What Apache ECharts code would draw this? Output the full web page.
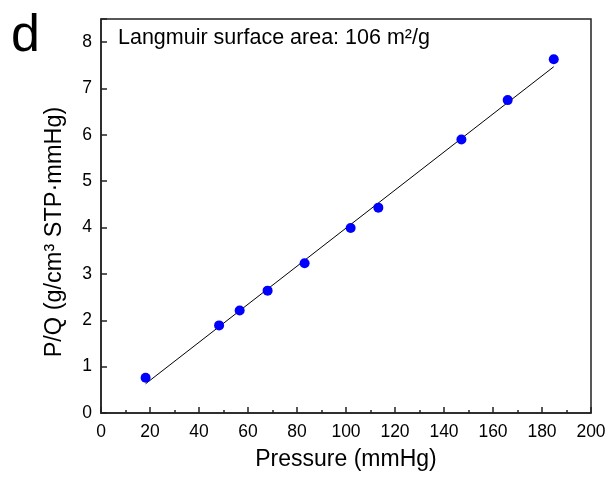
<!DOCTYPE html>
<html>
<head>
<meta charset="utf-8">
<script src="https://cdn.jsdelivr.net/npm/echarts@6/dist/echarts.min.js"></script>
<style>html,body{margin:0;padding:0;background:#fff}#c{width:611px;height:478px}</style>
</head>
<body>
<div id="c"></div>
<script>
const pressure = [18.2, 48.2, 56.6, 68.0, 83.1, 101.9, 113.2, 147.1, 166.0, 184.8];
const pOverQ = [0.76, 1.89, 2.21, 2.64, 3.23, 3.99, 4.43, 5.90, 6.75, 7.63];
const fitX = [18.2, 184.8];
const fitY = [0.63, 7.47];
const panelLabel = 'd';
const annotation = 'Langmuir surface area: 106 m\u00B2/g';
const xName = 'Pressure (mmHg)';
const yName = 'P/Q (g/cm\u00B3 STP\u00B7mmHg)';

const font = 'Liberation Sans, Arial, sans-serif';
const chart = echarts.init(document.getElementById('c'), null, {renderer: 'canvas'});
chart.setOption({
  animation: false,
  backgroundColor: '#fff',
  grid: {left: 101, right: 20, top: 19, bottom: 65, show: true, borderColor: '#222', borderWidth: 1.5},
  graphic: [
    {type: 'text', left: 11, top: 11, style: {text: panelLabel, font: '52px ' + font, fill: '#000'}},
    {type: 'text', left: 118, top: 27, style: {text: annotation, font: '21.5px ' + font, fill: '#000'}},
    {type: 'text', x: 55, y: 232, rotation: Math.PI / 2,
     style: {text: yName, font: '23.5px ' + font, fill: '#000', align: 'center', verticalAlign: 'middle'}}
  ],
  xAxis: {
    type: 'value', min: 0, max: 200, interval: 20,
    name: xName, nameLocation: 'middle', nameGap: 35,
    nameTextStyle: {fontFamily: font, fontSize: 23, color: '#000'},
    axisLine: {lineStyle: {color: '#222', width: 1.5}},
    axisTick: {inside: true, length: 6, lineStyle: {color: '#222', width: 1.5}},
    minorTick: {show: true, splitNumber: 2, length: 3, lineStyle: {color: '#222', width: 1.5}},
    axisLabel: {fontFamily: font, fontSize: 17.5, color: '#000', margin: 10},
    splitLine: {show: false}
  },
  yAxis: {
    type: 'value', min: 0, max: 8.5, interval: 1,
    axisLine: {lineStyle: {color: '#222', width: 1.5}},
    axisTick: {inside: true, length: 6, lineStyle: {color: '#222', width: 1.5}},
    axisLabel: {fontFamily: font, fontSize: 17.5, color: '#000', margin: 9,
      formatter: v => (v > 8 ? '' : String(v))},
    splitLine: {show: false}
  },
  series: [
    {type: 'line', data: fitX.map((x, i) => [x, fitY[i]]), showSymbol: false, symbol: 'none',
     lineStyle: {color: '#000', width: 1}, z: 2},
    {type: 'scatter', data: pressure.map((x, i) => [x, pOverQ[i]]), symbol: 'circle', symbolSize: 10,
     itemStyle: {color: '#0000FF', opacity: 1}, z: 3}
  ]
});
</script>
</body>
</html>
